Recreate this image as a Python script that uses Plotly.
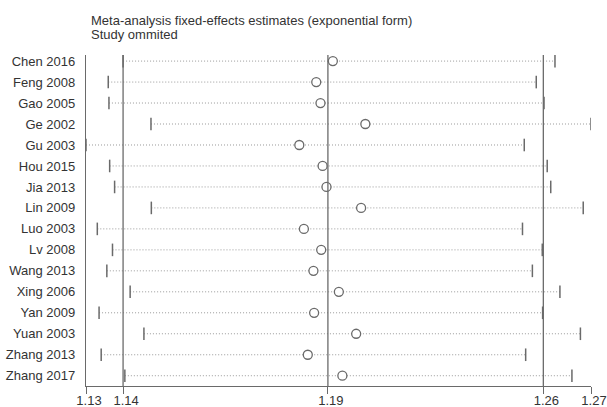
import plotly.graph_objects as go

studies = ["Chen 2016", "Feng 2008", "Gao 2005", "Ge 2002", "Gu 2003", "Hou 2015",
           "Jia 2013", "Lin 2009", "Luo 2003", "Lv 2008", "Wang 2013", "Xing 2006",
           "Yan 2009", "Yuan 2003", "Zhang 2013", "Zhang 2017"]
estimate = [1.1954, 1.1907, 1.1919, 1.2046, 1.1859, 1.1925, 1.1936, 1.2034,
            1.1872, 1.1921, 1.1899, 1.1971, 1.1901, 1.2020, 1.1883, 1.1981]
lower = [1.1360, 1.1318, 1.1320, 1.1439, 1.1255, 1.1322, 1.1336, 1.1440,
         1.1287, 1.1330, 1.1314, 1.1380, 1.1292, 1.1419, 1.1298, 1.1365]
upper = [1.2583, 1.2530, 1.2552, 1.2685, 1.2496, 1.2561, 1.2571, 1.2663,
         1.2491, 1.2547, 1.2519, 1.2597, 1.2548, 1.2655, 1.2500, 1.2631]
overall_lower = 1.136
overall_estimate = 1.194
overall_upper = 1.255
tick_values = [min(lower), overall_lower, overall_estimate, overall_upper, max(upper)]
tick_labels = ["1.13", "1.14", "1.19", "1.26", "1.27"]

rows = list(range(1, len(studies) + 1))
GRAY = "#6a6a6a"
TEXT = "#333333"
FONT = "Liberation Sans, Arial, sans-serif"

fig = go.Figure()

# dotted CI lines
lx, ly = [], []
for r, lo, hi in zip(rows, lower, upper):
    lx += [lo, hi, None]
    ly += [r, r, None]
fig.add_trace(go.Scatter(x=lx, y=ly, mode="lines",
                         line=dict(color="#9a9a9a", width=1, dash="1px,2px"),
                         hoverinfo="skip", showlegend=False))

# end caps
fig.add_trace(go.Scatter(x=lower + upper, y=rows + rows, mode="markers",
                         marker=dict(symbol="line-ns", size=9,
                                     line=dict(color=GRAY, width=1.5)),
                         showlegend=False))

# overall vertical lines
for v in [overall_lower, overall_estimate, overall_upper]:
    fig.add_shape(type="line", xref="x", yref="paper", x0=v, x1=v, y0=0, y1=1,
                  line=dict(color=GRAY, width=1.3))

# estimates
fig.add_trace(go.Scatter(x=estimate, y=rows, mode="markers",
                         marker=dict(symbol="circle", size=9, color="white",
                                     line=dict(color=GRAY, width=1.3)),
                         showlegend=False))

fig.update_layout(
    width=607, height=407,
    template="none",
    paper_bgcolor="white", plot_bgcolor="white",
    margin=dict(l=86, r=16, t=55, b=21),
    font=dict(family=FONT, size=13, color=TEXT),
    showlegend=False,
    xaxis=dict(range=[min(lower), max(upper)], tickvals=tick_values, ticktext=tick_labels,
               showgrid=False, zeroline=False, showline=True, linecolor=GRAY, linewidth=1.3,
               ticks="outside", ticklen=7, tickcolor=GRAY, tickwidth=1.3,
               ticklabelshift=3, ticklabelstandoff=-5, automargin=False,
               tickfont=dict(family=FONT, size=13, color=TEXT)),
    yaxis=dict(range=[16.49, 0.71], tickvals=rows, ticktext=studies,
               showgrid=False, zeroline=False, showline=True, linecolor=GRAY, linewidth=1.3,
               ticks="", ticklabelstandoff=7, automargin=False,
               tickfont=dict(family=FONT, size=13, color=TEXT)),
    annotations=[
        dict(text="Meta-analysis fixed-effects estimates (exponential form)",
             xref="paper", yref="paper", x=(89 - 86) / 505, y=(386 - 20.7) / 331,
             xanchor="left", yanchor="middle", showarrow=False,
             font=dict(family=FONT, size=13, color=TEXT)),
        dict(text="Study ommited",
             xref="paper", yref="paper", x=(89 - 86) / 505, y=(386 - 34.5) / 331,
             xanchor="left", yanchor="middle", showarrow=False,
             font=dict(family=FONT, size=13, color=TEXT)),
    ],
)

fig.write_html("out.html", config={"displayModeBar": False},
               post_script="document.body.style.margin='0';document.body.style.overflow='hidden';")
